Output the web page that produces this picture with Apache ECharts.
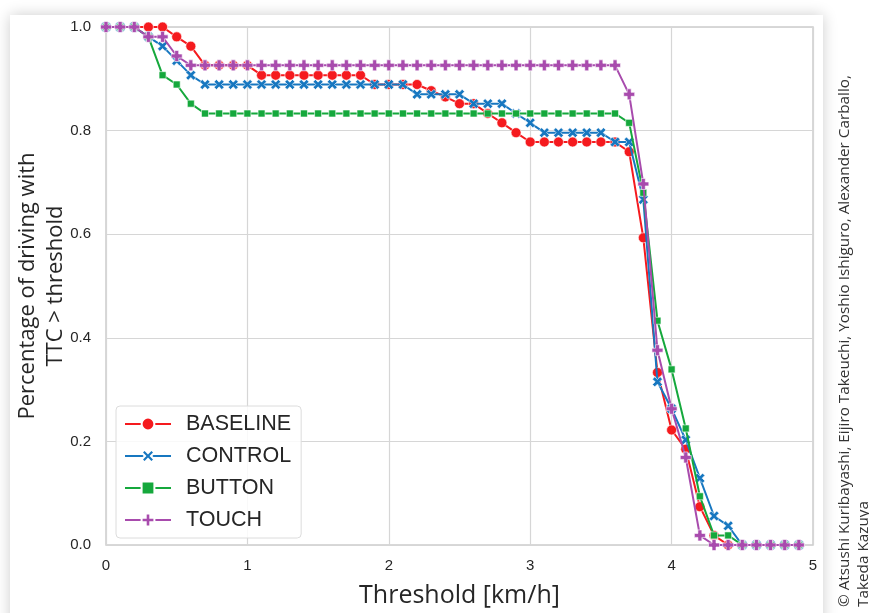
<!DOCTYPE html>
<html>
<head>
<meta charset="utf-8">
<script src="https://cdn.jsdelivr.net/npm/echarts@6/dist/echarts.min.js"></script>
<style>
  html, body { margin: 0; padding: 0; background: #fff; }
  #card { position: absolute; left: 10px; top: 15px; width: 813px; height: 640px;
          background: #fff; box-shadow: 0 0 14px rgba(0,0,0,0.2); }
  #chart { position: absolute; left: 0; top: 0; width: 869px; height: 613px; }
</style>
</head>
<body>
<div id="card"></div>
<div id="chart"></div>
<script>
// Threshold values (km/h), sampled every 0.1
const thresholds = [0.0,0.1,0.2,0.3,0.4,0.5,0.6,0.7,0.8,0.9,1.0,1.1,1.2,1.3,1.4,1.5,1.6,1.7,1.8,1.9,
  2.0,2.1,2.2,2.3,2.4,2.5,2.6,2.7,2.8,2.9,3.0,3.1,3.2,3.3,3.4,3.5,3.6,3.7,3.8,3.9,
  4.0,4.1,4.2,4.3,4.4,4.5,4.6,4.7,4.8,4.9];

// Share of driving time with TTC above each threshold
const baseline = [1,1,1,1,1,0.981,0.963,0.926,0.926,0.926,0.926,0.907,0.907,0.907,0.907,0.907,0.907,0.907,0.907,0.889,
  0.889,0.889,0.889,0.877,0.865,0.852,0.852,0.833,0.815,0.796,0.778,0.778,0.778,0.778,0.778,0.778,0.778,0.759,0.593,0.333,
  0.222,0.185,0.074,0.0185,0,0,0,0,0,0];
const control = [1,1,1,0.981,0.963,0.935,0.907,0.889,0.889,0.889,0.889,0.889,0.889,0.889,0.889,0.889,0.889,0.889,0.889,0.889,
  0.889,0.889,0.870,0.870,0.870,0.870,0.852,0.852,0.852,0.833,0.815,0.796,0.796,0.796,0.796,0.796,0.778,0.778,0.667,0.315,
  0.263,0.203,0.129,0.056,0.037,0,0,0,0,0];
const button = [1,1,1,0.981,0.907,0.889,0.852,0.833,0.833,0.833,0.833,0.833,0.833,0.833,0.833,0.833,0.833,0.833,0.833,0.833,
  0.833,0.833,0.833,0.833,0.833,0.833,0.833,0.833,0.833,0.833,0.833,0.833,0.833,0.833,0.833,0.833,0.833,0.815,0.680,0.433,
  0.339,0.225,0.094,0.0185,0.0185,0,0,0,0,0];
const touch = [1,1,1,0.981,0.981,0.944,0.926,0.926,0.926,0.926,0.926,0.926,0.926,0.926,0.926,0.926,0.926,0.926,0.926,0.926,
  0.926,0.926,0.926,0.926,0.926,0.926,0.926,0.926,0.926,0.926,0.926,0.926,0.926,0.926,0.926,0.926,0.926,0.870,0.697,0.376,
  0.263,0.169,0.0185,0,0,0,0,0,0,0];

const seriesNames = ['BASELINE', 'CONTROL', 'BUTTON', 'TOUCH'];
const xTicks = [0, 1, 2, 3, 4, 5];
const yTicks = [0.0, 0.2, 0.4, 0.6, 0.8, 1.0];

const colors = ['#f51a1e', '#1777c0', '#15a83c', '#a84bad'];
// bold "x" and "+" marker outlines
const xMark = 'path://M0,2.3L2.3,0L5,2.7L7.7,0L10,2.3L7.3,5L10,7.7L7.7,10L5,7.3L2.3,10L0,7.7L2.7,5Z';
const plusMark = 'path://M3.2,0H6.8V3.2H10V6.8H6.8V10H3.2V6.8H0V3.2H3.2Z';
const symbols = ['circle', xMark, 'rect', plusMark];
const symbolSizes = [10, 10, 7, 11];
const values = [baseline, control, button, touch];

const chart = echarts.init(document.getElementById('chart'), null, { renderer: 'canvas' });

const series = seriesNames.map((name, i) => ({
  name: name,
  type: 'line',
  data: thresholds.map((t, k) => [t, values[i][k]]),
  symbol: symbols[i],
  symbolSize: symbolSizes[i],
  showSymbol: true,
  showAllSymbol: true,
  lineStyle: { color: colors[i], width: 2 },
  itemStyle: { color: colors[i], borderColor: '#fff', borderWidth: 0.6 },
  emphasis: { disabled: true },
  animation: false,
  z: 2 + i
}));

chart.setOption({
  backgroundColor: 'transparent',
  animation: false,
  grid: {
    left: 106, right: 56, top: 27, bottom: 66,
    show: true, borderColor: '#cccccc', borderWidth: 1.5, backgroundColor: 'transparent'
  },
  xAxis: {
    type: 'value', min: xTicks[0], max: xTicks[xTicks.length - 1], interval: 1,
    axisLine: { show: false }, axisTick: { show: false },
    splitLine: { lineStyle: { color: '#d6d6d6', width: 1.2 } },
    axisLabel: { color: '#262626', fontSize: 15, fontFamily: 'Liberation Sans, Arial', margin: 13 },
    name: 'Threshold [km/h]', nameLocation: 'middle', nameGap: 38, nameMoveOverlap: false,
    nameTextStyle: { color: '#262626', fontSize: 25, fontFamily: 'Open Sans' }
  },
  yAxis: {
    type: 'value', min: yTicks[0], max: yTicks[yTicks.length - 1], interval: 0.2,
    axisLine: { show: false }, axisTick: { show: false },
    splitLine: { lineStyle: { color: '#d6d6d6', width: 1.2 } },
    axisLabel: { color: '#262626', fontSize: 15, fontFamily: 'Liberation Sans, Arial', margin: 15,
      formatter: v => v.toFixed(1) },
    name: 'Percentage of driving with\nTTC > threshold', nameLocation: 'middle', nameGap: 36, nameMoveOverlap: false,
    nameTextStyle: { color: '#262626', fontSize: 22, fontFamily: 'Open Sans', lineHeight: 28 }
  },
  legend: {
    left: 116, top: 406, orient: 'vertical',
    padding: [6, 10, 6, 8], itemGap: 8, itemWidth: 46, itemHeight: 16,
    backgroundColor: 'rgba(255,255,255,0.85)', borderColor: '#dcdcdc', borderWidth: 1, borderRadius: 4,
    textStyle: { color: '#262626', fontSize: 21.5, fontFamily: 'Liberation Sans, Arial', padding: [0, 0, 0, 10],
      lineHeight: 24 },
    data: seriesNames
  },
  graphic: [
    { type: 'text', x: 845, y: 607, rotation: Math.PI / 2,
      style: { text: '© Atsushi Kuribayashi, Eijiro Takeuchi, Yoshio Ishiguro, Alexander Carballo,',
        fill: '#333', fontSize: 15.3, fontFamily: 'Open Sans', textAlign: 'left', textVerticalAlign: 'middle' } },
    { type: 'text', x: 864, y: 607, rotation: Math.PI / 2,
      style: { text: 'Takeda Kazuya',
        fill: '#333', fontSize: 15.3, fontFamily: 'Open Sans', textAlign: 'left', textVerticalAlign: 'middle' } }
  ],
  series: series
});
</script>
</body>
</html>
